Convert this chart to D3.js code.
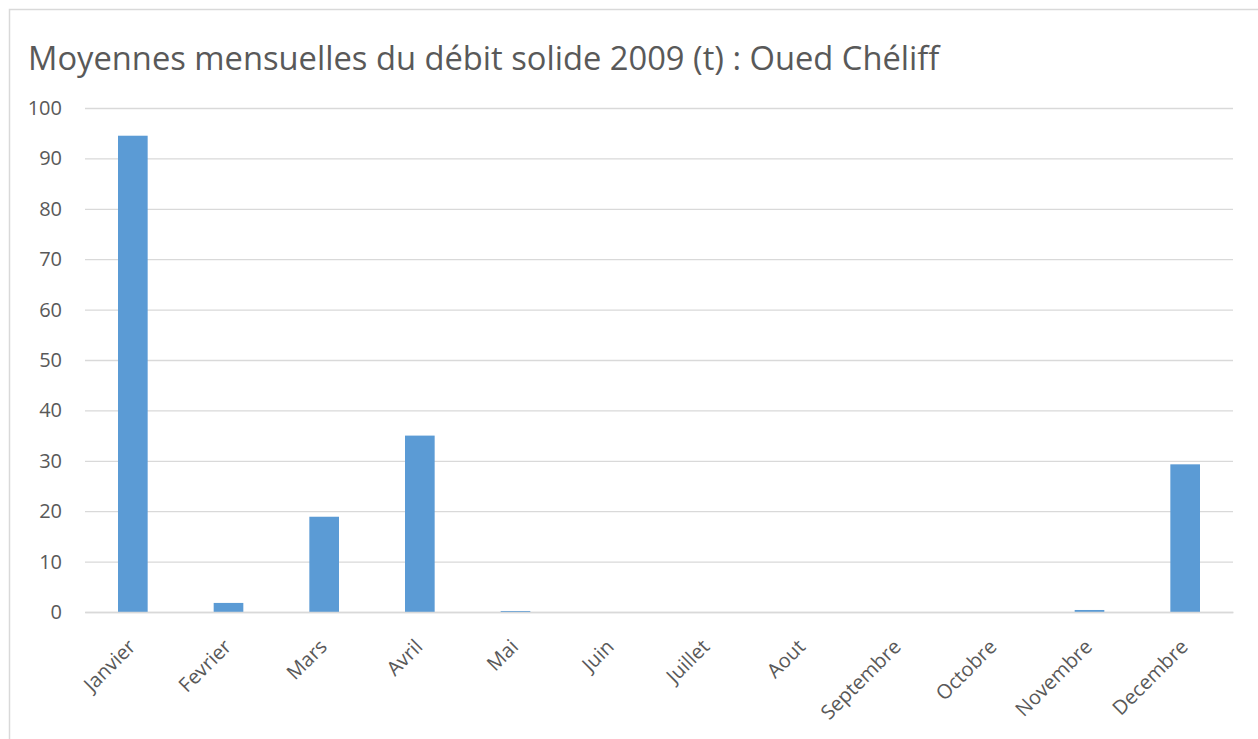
<!DOCTYPE html>
<html><head><meta charset="utf-8">
<script src="https://cdn.jsdelivr.net/npm/d3@7"></script>
<style>body{margin:0;background:#fff}svg{display:block}</style>
</head><body>
<svg id="c" width="1258" height="739"></svg>
<script>
const title = "Moyennes mensuelles du débit solide 2009 (t) : Oued Chéliff";
const months = ["Janvier","Fevrier","Mars","Avril","Mai","Juin","Juillet","Aout","Septembre","Octobre","Novembre","Decembre"];
const values = [94.5, 1.8, 18.9, 35.0, 0.2, 0, 0, 0, 0, 0, 0.4, 29.3];
const yTicks = [0,10,20,30,40,50,60,70,80,90,100];

const svg = d3.select("#c");
const font = "'Open Sans', Calibri, sans-serif";
svg.append("rect").attr("x",9.5).attr("y",9.5).attr("width",1260).attr("height",740)
  .attr("fill","#fff").attr("stroke","#d9d9d9").attr("stroke-width",1.5);

const L=85, R=1233, T=108, B=612;
const x = d3.scaleBand().domain(months).range([L,R]).paddingInner(0.69).paddingOuter(0.345);
const y = d3.scaleLinear().domain([0,100]).range([B,T]);

svg.append("text").attr("x",28).attr("y",70).attr("font-family",font).attr("font-size",32.7)
  .attr("fill","#595959").text(title);

const ya = svg.append("g").attr("transform",`translate(${L},0)`)
  .call(d3.axisLeft(y).tickValues(yTicks).tickSize(-(R-L)).tickPadding(23));
ya.select(".domain").remove();
ya.selectAll("line").attr("stroke","#d9d9d9").attr("stroke-width",1.3);
ya.selectAll("text").attr("font-family",font).attr("font-size",20).attr("fill","#595959");

svg.append("g").selectAll("rect").data(values).join("rect")
  .attr("x",(d,i)=>x(months[i])).attr("width",x.bandwidth())
  .attr("y",d=>y(d)).attr("height",d=>B-y(d)).attr("fill","#5b9bd5");

const xa = svg.append("g").attr("transform",`translate(0,${B})`)
  .call(d3.axisBottom(x).tickSize(0));
xa.select(".domain").attr("stroke","#d9d9d9").attr("stroke-width",1.5);
xa.selectAll("text").attr("font-family",font).attr("font-size",20).attr("fill","#595959")
  .attr("text-anchor","end").attr("dy",0)
  .attr("transform","translate(4,36) rotate(-45)").attr("y",0).attr("x",0);
</script>
</body></html>
